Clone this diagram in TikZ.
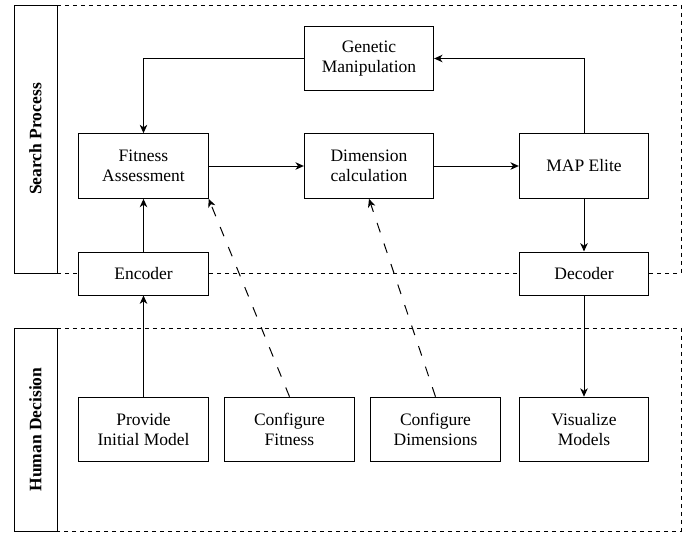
\documentclass[tikz,border=0pt]{standalone}
\usepackage{fontspec}
\setmainfont{Liberation Serif}
\usetikzlibrary{arrows.meta}
\begin{document}
\begin{tikzpicture}[x=0.6pt,y=-0.6pt,
  font=\fontsize{10.5pt}{12pt}\selectfont,
  every node/.style={inner sep=0pt, align=center},
  box/.style={draw, line width=0.6pt, fill=white, minimum width=77.6pt, minimum height=38.8pt},
  lowbox/.style={box, minimum height=25.8pt},
  frame/.style={line width=0.6pt, dash pattern=on 2.4pt off 2.4pt},
  lab/.style={draw, line width=0.6pt},
  arr/.style={line width=0.6pt, -{Stealth[length=5pt,width=4.5pt,inset=1.5pt]}},
  darr/.style={arr, dash pattern=on 6pt off 7pt}]
\useasboundingbox (0,0) rectangle (691,534);
% frames
\draw[frame] (57,5) -| (681,273) -- (57,273);
\draw[frame] (57,328) -| (681,531) -- (57,531);
\draw[lab] (14,5) rectangle (57,273);
\node[rotate=90, font=\fontsize{10.5pt}{12pt}\selectfont\bfseries] (sp) at (35.5,139) {Search Process};
\draw[lab] (14,328) rectangle (57,531);
\node[rotate=90, font=\fontsize{10.5pt}{12pt}\selectfont\bfseries] (hd) at (35.5,429.5) {Human Decision};
% nodes
\node[box] (gm) at (369,58.5) {Genetic\\Manipulation};
\node[box] (fa) at (143.5,166) {Fitness\\Assessment};
\node[box] (dc) at (369,166) {Dimension\\calculation};
\node[box] (me) at (584,166) {MAP Elite};
\node[lowbox] (enc) at (143.5,273.5) {Encoder};
\node[lowbox] (dec) at (584,273.5) {Decoder};
\node[box] (pim) at (143.5,429.5) {Provide\\Initial Model};
\node[box] (cf) at (289.5,429.5) {Configure\\Fitness};
\node[box] (cd) at (435.5,429.5) {Configure\\Dimensions};
\node[box] (vm) at (584,429.5) {Visualize\\Models};
% connectors
\draw[arr] (me.north) |- (gm.east);
\draw[arr] (gm.west) -| (fa.north);
\draw[arr] (fa) -- (dc);
\draw[arr] (dc) -- (me);
\draw[arr] (me) -- (dec);
\draw[arr] (enc) -- (fa);
\draw[arr] (pim) -- (enc);
\draw[arr] (dec) -- (vm);
\draw[darr] (cf.north) -- (fa.south east);
\draw[darr] (cd.north) -- (dc.south);
\end{tikzpicture}
\end{document}
